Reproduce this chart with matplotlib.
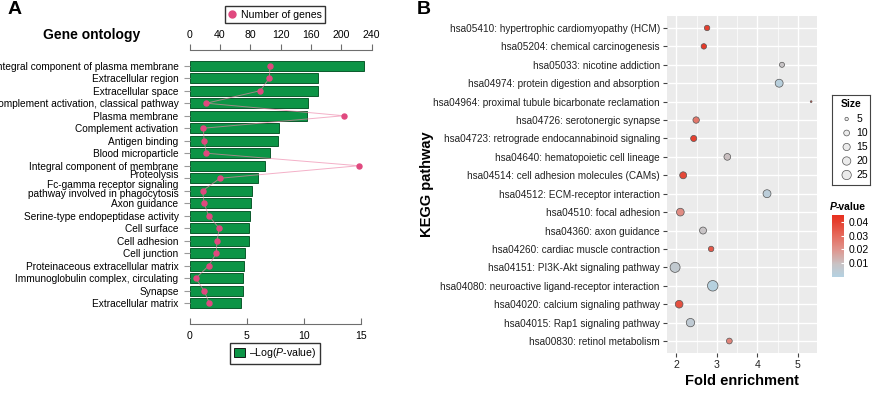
import numpy as np
import matplotlib
matplotlib.use("Agg")
import matplotlib.pyplot as plt
from matplotlib.colors import LinearSegmentedColormap, Normalize
from matplotlib.lines import Line2D
from matplotlib.patches import Patch
import matplotlib.cm as cm

plt.rcParams["font.family"] = ["Liberation Sans", "DejaVu Sans"]
plt.rcParams["mathtext.fontset"] = "custom"
plt.rcParams["mathtext.rm"] = "Liberation Sans"
plt.rcParams["mathtext.it"] = "Liberation Sans:italic"

# ---- panel A data: GO terms ---------------------------------------------------
go_terms = [
    "Integral component of plasma membrane", "Extracellular region",
    "Extracellular space", "Complement activation, classical pathway",
    "Plasma membrane", "Complement activation", "Antigen binding",
    "Blood microparticle", "Integral component of membrane", "Proteolysis",
    "Fc-gamma receptor signaling\npathway involved in phagocytosis",
    "Axon guidance", "Serine-type endopeptidase activity", "Cell surface",
    "Cell adhesion", "Cell junction", "Proteinaceous extracellular matrix",
    "Immunoglobulin complex, circulating", "Synapse", "Extracellular matrix",
]
go_logp = [15.26, 11.26, 11.2, 10.36, 10.3, 7.79, 7.73, 7.06, 6.57, 5.95,
           5.45, 5.37, 5.28, 5.22, 5.16, 4.84, 4.73, 4.70, 4.67, 4.49]
go_genes = [106, 105, 93, 22, 203, 18, 19, 22, 223, 40,
            17, 19, 25, 39, 36, 35, 25, 8, 19, 26]

# ---- panel B data: KEGG pathways ---------------------------------------------
kegg_terms = [
    "hsa05410: hypertrophic cardiomyopathy (HCM)",
    "hsa05204: chemical carcinogenesis",
    "hsa05033: nicotine addiction",
    "hsa04974: protein digestion and absorption",
    "hsa04964: proximal tubule bicarbonate reclamation",
    "hsa04726: serotonergic synapse",
    "hsa04723: retrograde endocannabinoid signaling",
    "hsa04640: hematopoietic cell lineage",
    "hsa04514: cell adhesion molecules (CAMs)",
    "hsa04512: ECM-receptor interaction",
    "hsa04510: focal adhesion",
    "hsa04360: axon guidance",
    "hsa04260: cardiac muscle contraction",
    "hsa04151: PI3K-Akt signaling pathway",
    "hsa04080: neuroactive ligand-receptor interaction",
    "hsa04020: calcium signaling pathway",
    "hsa04015: Rap1 signaling pathway",
    "hsa00830: retinol metabolism",
]
kegg_fold = [2.76, 2.68, 4.61, 4.54, 5.33, 2.49, 2.43, 3.26, 2.17,
             4.24, 2.10, 2.66, 2.86, 1.97, 2.90, 2.07, 2.35, 3.31]
kegg_size = [9, 9, 8, 18, 4, 12, 11, 13, 14, 18, 17, 14, 9, 29, 32, 17, 20, 10]
kegg_p = [0.040, 0.042, 0.009, 0.002, 0.036, 0.027, 0.040, 0.010, 0.038,
          0.003, 0.022, 0.009, 0.034, 0.006, 0.001, 0.036, 0.005, 0.024]
size_breaks = [5, 10, 15, 20, 25]
p_breaks = [0.01, 0.02, 0.03, 0.04]

W, H = 878, 394
fig = plt.figure(figsize=(W / 100, H / 100), dpi=100)


def box(x0, y0, x1, y1):
    # pixel box (top-left origin) -> figure fraction rect
    return [x0 / W, 1 - y1 / H, (x1 - x0) / W, (y1 - y0) / H]


GREEN = "#0c9446"
PINK = "#e0497f"
AXC = "#6e6e6e"

# ---- panel A -----------------------------------------------------------------
ax = fig.add_axes(box(189.7, 50, 372, 324))
ypos = np.arange(len(go_terms))
ax.barh(ypos, go_logp, height=0.8, color=GREEN, edgecolor="#0b5a2c", lw=0.7)
ax.set_xlim(0, (372 - 189.7) / 11.42)
ax.set_ylim(19 + 1.656, -1.256)
ax.set_yticks(ypos)
# labels around the two-line one are nudged (points) so they don't collide
nudge = {9: 2.2, 10: 1.0, 11: -0.6}
ax.set_yticklabels(["" if i in nudge else t for i, t in enumerate(go_terms)], fontsize=7.3)
for i, dy in nudge.items():
    ax.annotate(go_terms[i], xy=(0, ypos[i]), xycoords=ax.get_yaxis_transform(),
                xytext=(-8, dy), textcoords="offset points", ha="right", va="center",
                fontsize=7.3, linespacing=0.85, annotation_clip=False)
ax.set_xticks([0, 5, 10, 15])
ax.tick_params(axis="x", direction="in", length=4, color=AXC, labelsize=7.6, pad=5)
ax.tick_params(axis="y", direction="out", length=4, color="#999999", pad=4)
for s in ["left", "right", "top"]:
    ax.spines[s].set_visible(False)
ax.spines["bottom"].set_bounds(0, 15)
ax.spines["bottom"].set_color(AXC)

ax2 = ax.twiny()
ax2.set_xlim(0, (372 - 189.7) / 0.758)
ax2.plot(go_genes, ypos, color="#ee86aa", lw=0.7, alpha=0.65)
ax2.plot(go_genes, ypos, ls="none", marker="o", ms=3.6, color=PINK)
ax2.set_xticks([0, 40, 80, 120, 160, 200, 240])
ax2.tick_params(axis="x", direction="out", length=4, color=AXC, labelsize=7.6, pad=3)
for s in ["left", "right", "bottom"]:
    ax2.spines[s].set_visible(False)
ax2.spines["top"].set_bounds(0, 240)
ax2.spines["top"].set_color(AXC)

fig.text(92 / W, 1 - 35 / H, "Gene ontology", fontsize=10, fontweight="bold",
         ha="center", va="center")
fig.text(15 / W, 1 - 10 / H, "A", fontsize=14, fontweight="bold", ha="center", va="center")

h1 = Line2D([], [], ls="none", marker="o", ms=5, color=PINK)
fig.legend([h1], ["Number of genes"], loc="center", bbox_to_anchor=(275 / W, 1 - 14.5 / H),
           fontsize=7.6, frameon=True, fancybox=False, edgecolor="black",
           handlelength=0.8, handletextpad=0.4, borderpad=0.35, borderaxespad=0)
h2 = Patch(facecolor=GREEN, edgecolor="black", lw=0.6)
fig.legend([h2], ["\u2013Log($P$-value)"], loc="center",
           bbox_to_anchor=(275 / W, 1 - 353.3 / H), fontsize=7.6, frameon=True,
           fancybox=False, edgecolor="black", handlelength=1.0, handleheight=1.0,
           handletextpad=0.4, borderpad=0.35, borderaxespad=0)

# ---- panel B -----------------------------------------------------------------
cmap = LinearSegmentedColormap.from_list(
    "pv", [(0, "#b4d2e2"), (0.2, "#c8c4c6"), (0.44, "#df958e"),
           (0.67, "#e56a5c"), (0.89, "#e5402f"), (1.0, "#e8301f")])
norm = Normalize(0.0, 0.045)


def size_pt2(v):
    d_px = 1.75 * (1 + 5 * np.sqrt(np.clip((np.asarray(v) - 4) / 28, 0, None)))
    return (d_px * 0.72) ** 2


bx = fig.add_axes(box(666.7, 16, 816.7, 353))
bx.set_facecolor("#ebebeb")
ky = np.arange(len(kegg_terms))
bx.scatter(kegg_fold, ky, s=size_pt2(kegg_size), c=kegg_p, cmap=cmap, norm=norm,
           edgecolors="#555555", linewidths=0.5, zorder=3)
bx.set_xlim(1.763, 5.467)
bx.set_ylim(17.65, -0.65)
bx.set_xticks([2, 3, 4, 5])
bx.set_xticks([2.5, 3.5, 4.5], minor=True)
bx.set_yticks(ky)
bx.set_yticklabels(kegg_terms, fontsize=7.2, color="#222222")
bx.grid(True, which="major", color="white", lw=1.0)
bx.grid(True, which="minor", axis="x", color="white", lw=0.5)
bx.set_axisbelow(True)
bx.tick_params(axis="both", which="major", length=3, color="#444444", labelsize=7.2,
               labelcolor="#222222", pad=2)
bx.tick_params(axis="x", which="major", labelsize=7.6)
bx.tick_params(axis="x", which="minor", length=0)
for s in bx.spines.values():
    s.set_visible(False)
bx.set_xlabel("Fold enrichment", fontsize=10.5, fontweight="bold", labelpad=3)
fig.text(427 / W, 1 - 184 / H, "KEGG pathway", fontsize=10.5, fontweight="bold",
         rotation=90, ha="center", va="center")
fig.text(423.5 / W, 1 - 10 / H, "B", fontsize=14, fontweight="bold", ha="center", va="center")

# size legend
lx = fig.add_axes(box(831.7, 95, 870, 185))
lx.set_xlim(0, 1)
lx.set_ylim(185, 95)
lx.set_xticks([])
lx.set_yticks([])
for s in lx.spines.values():
    s.set_color("#444444")
    s.set_linewidth(0.8)
ly = [119, 133, 147, 161, 175]
lx.scatter([0.39] * len(size_breaks), ly, s=size_pt2(size_breaks), facecolor="#ebebeb",
           edgecolors="#555555", linewidths=0.5)
for yy, v in zip(ly, size_breaks):
    lx.text(0.64, yy, str(v), fontsize=7.5, va="center", ha="left")
lx.text(0.24, 104, "Size", fontsize=7.5, fontweight="bold", va="center", ha="left")

# colour bar
cax = fig.add_axes(box(831.7, 215, 844, 277))
cb = fig.colorbar(cm.ScalarMappable(norm=norm, cmap=cmap), cax=cax, ticks=p_breaks)
cb.outline.set_visible(False)
cax.tick_params(length=2.5, color="white", direction="in", labelsize=7.5, pad=3)
cax.set_yticklabels([f"{p:.2f}" for p in p_breaks])
fig.text(830 / W, 1 - 206.7 / H, "P", fontsize=7.5, fontweight="bold", fontstyle="italic",
         va="center", ha="left")
fig.text(835.2 / W, 1 - 206.7 / H, "-value", fontsize=7.5, fontweight="bold",
         va="center", ha="left")

fig.savefig("out.png", dpi=100)
